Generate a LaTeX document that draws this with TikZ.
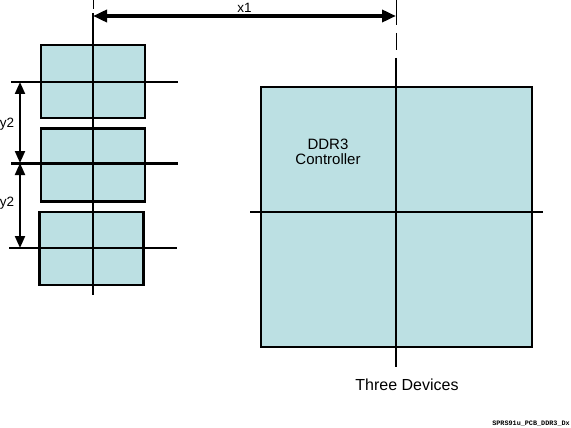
\documentclass[tikz,border=0pt]{standalone}
\usepackage{fontspec}
\setmainfont{Liberation Sans}
\newfontfamily\codefont{Liberation Mono}
\usepackage{tikz}
\usetikzlibrary{arrows.meta,positioning}
\definecolor{chipfill}{RGB}{188,224,227}

\begin{document}
\begin{tikzpicture}
[x=1pt,y=-1pt]
\tikzset{
	chip/.style = {draw, line width=2.5pt, fill=chipfill, minimum width=104pt, minimum height=73pt, inner sep=0},
	soc/.style = {draw, line width=2.5pt, fill=chipfill, minimum width=271pt, minimum height=260pt, inner sep=0},
	cross/.style = {line width=2pt},
	dim/.style = {line width=2pt, {Triangle[length=12pt,width=10pt]}-{Triangle[length=12pt,width=10pt]}},
	dimwide/.style = {line width=3.5pt, {Triangle[length=14pt,width=12pt]}-{Triangle[length=14pt,width=12pt]}},
	lbl/.style = {font=\fontsize{13.5}{15}\selectfont, inner sep=0}
}
\useasboundingbox (0,0) rectangle (571,428);

% memory devices
\node(mem1) [chip] at (93,81.5) {};
\node(mem2) [chip] at (93,165) {};
\node(mem3) [chip] at (91.5,248.5) {};

% controller
\node(ctrl) [soc] at (396.5,217) {};
\node(ctrltxt) [align=center, font=\fontsize{15}{15}\selectfont, inner sep=0] at (328,152) {DDR3\\Controller};
\node(caption) [font=\fontsize{16}{18}\selectfont, inner sep=0] at (407,385) {Three Devices};

% center lines
\coordinate (v1 top) at (93,13);
\coordinate (v1 bot) at (93,295);
\coordinate (h1 w) at (11,82);
\coordinate (h1 e) at (178,82);
\coordinate (h2 w) at (11,163);
\coordinate (h2 e) at (178,163);
\coordinate (h3 w) at (9,248);
\coordinate (h3 e) at (177,248);
\coordinate (v2 top) at (396,58);
\coordinate (v2 bot) at (396,367);
\coordinate (h4 w) at (250,212);
\coordinate (h4 e) at (543,212);

\draw [cross] (v1 top) to (v1 bot);
\draw [cross] (h1 w) to (h1 e);
\draw [cross, line width=3pt] (h2 w) to (h2 e);
\draw [cross] (h3 w) to (h3 e);
\draw [cross] (v2 top) to (v2 bot);
\draw [cross] (h4 w) to (h4 e);

% extension dashes
\coordinate (x1 a) at (93,0);
\coordinate (x1 b) at (93,9);
\coordinate (x2 a) at (396,0);
\coordinate (x2 b) at (396,25);
\coordinate (x2 c) at (396,33);
\coordinate (x2 d) at (396,50);
\draw [line width=1pt] (x1 a) to (x1 b);
\draw [line width=1pt] (x2 a) to (x2 b);
\draw [line width=1pt] (x2 c) to (x2 d);

% dimensions
\coordinate (x1 start) at (93,16);
\coordinate (x1 end) at (396,16);
\draw [dimwide] (x1 start) to node(x1lbl) [lbl, above=2pt] {x1} (x1 end);

\coordinate (y2 a) at (20,82);
\coordinate (y2 b) at (20,163);
\coordinate (y2 c) at (20,248);
\draw [dim] (y2 a) to (y2 b);
\draw [dim] (y2 b) to (y2 c);
\node(y2top) [lbl] at (7,124) {y2};
\node(y2bot) [lbl] at (7,203) {y2};

\node(figid) [anchor=east, inner sep=0, font=\codefont\bfseries\fontsize{6.8}{8}\selectfont] at (570,424) {SPRS91u\_PCB\_DDR3\_Dx};
\end{tikzpicture}
\end{document}
